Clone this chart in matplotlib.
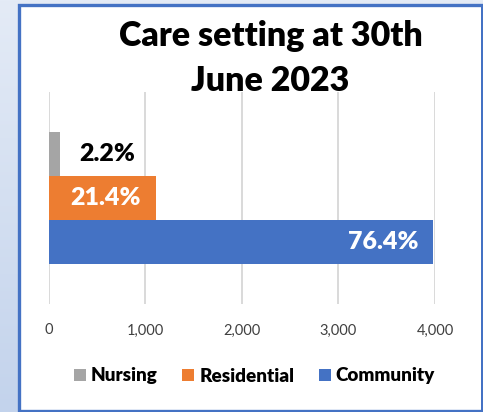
"""Care setting breakdown at 30th June 2023 as a clustered horizontal bar chart."""

import matplotlib

matplotlib.use("Agg")
import matplotlib.pyplot as plt
import numpy as np
from matplotlib.patches import Patch, Rectangle

# people in each care setting
settings = ["Nursing", "Residential", "Community"]
counts = [115, 1115, 3983]
colours = ["#a5a5a5", "#ed7d31", "#4472c4"]
label_colours = ["black", "white", "white"]

x_ticks = [0, 1000, 2000, 3000, 4000]
title_lines = ["Care setting at 30th", "June 2023"]

plt.rcParams["font.family"] = ["Lato", "DejaVu Sans"]
HEAVY = "heavy"

W, H = 483, 412
fig = plt.figure(figsize=(W / 100, H / 100), dpi=100)

# soft blue slide background behind the chart box
bg = fig.add_axes([0, 0, 1, 1], zorder=-10)
grad = np.linspace(0, 1, 256).reshape(-1, 1)
bg.imshow(
    grad,
    aspect="auto",
    cmap=matplotlib.colors.LinearSegmentedColormap.from_list(
        "slide", ["#e4ebf6", "#c3d3ec"]
    ),
    extent=[0, 1, 0, 1],
)
bg.set_axis_off()

# white chart box with blue outline
fig.patches.append(
    Rectangle(
        (18.5 / W, 1.0 / H),
        (W + 10 - 18.5) / W,
        (H - 5 - 1.0) / H,
        transform=fig.transFigure,
        facecolor="white",
        edgecolor="#4472c4",
        linewidth=2.4,
        zorder=-5,
    )
)
# right-hand edge of the box
fig.patches.append(
    Rectangle(
        (480.5 / W, 1.0 / H),
        3 / W,
        (H - 5 - 1.0) / H,
        transform=fig.transFigure,
        facecolor="#4472c4",
        edgecolor="none",
        zorder=-4,
    )
)

ax = fig.add_axes([48.5 / W, 108 / H, (435 - 48.5) / W, 212 / H])
ax.set_facecolor("none")

bar_h = 0.2075
offsets = [bar_h, 0, -bar_h]
total = sum(counts)
for name, value, colour, off, lc in zip(
    settings, counts, colours, offsets, label_colours
):
    ax.barh(off, value, height=bar_h, color=colour, zorder=3)
    pct = f"{value / total:.1%}"
    if lc == "black":
        ax.annotate(
            pct, (value, off), xytext=(14, 0), textcoords="offset points",
            ha="left", va="center", fontsize=18, fontweight=HEAVY, color=lc,
        )
    else:
        ax.annotate(
            pct, (value, off), xytext=(-11, 0), textcoords="offset points",
            ha="right", va="center", fontsize=18, fontweight=HEAVY, color=lc,
        )

ax.set_xlim(0, 4000)
ax.set_ylim(-0.5, 0.5)
ax.set_xticks(x_ticks, labels=[f"{t:,}" for t in x_ticks])
ax.set_yticks([])
ax.tick_params(axis="x", length=0, pad=14, labelsize=10.5, labelcolor="#404040")
ax.grid(axis="x", color="#d9d9d9", linewidth=1.4, zorder=0)
for spine in ax.spines.values():
    spine.set_visible(False)

fig.text(270.5 / W, (H - 46.5) / H, title_lines[0], ha="center",
         va="baseline", fontsize=24.5, fontweight=HEAVY)
fig.text(270.5 / W, (H - 91) / H, title_lines[1], ha="center",
         va="baseline", fontsize=24.5, fontweight=HEAVY)

handles = [Patch(facecolor=c, edgecolor="none") for c in colours]
leg = fig.legend(
    handles, settings, loc="center", bbox_to_anchor=(254.5 / W, (H - 376) / H),
    ncol=3, frameon=False, handlelength=0.63, handleheight=0.63,
    handletextpad=0.27, columnspacing=1.3,
    prop={"size": 13.6, "weight": HEAVY},
)

fig.savefig("out.png", dpi=100)
